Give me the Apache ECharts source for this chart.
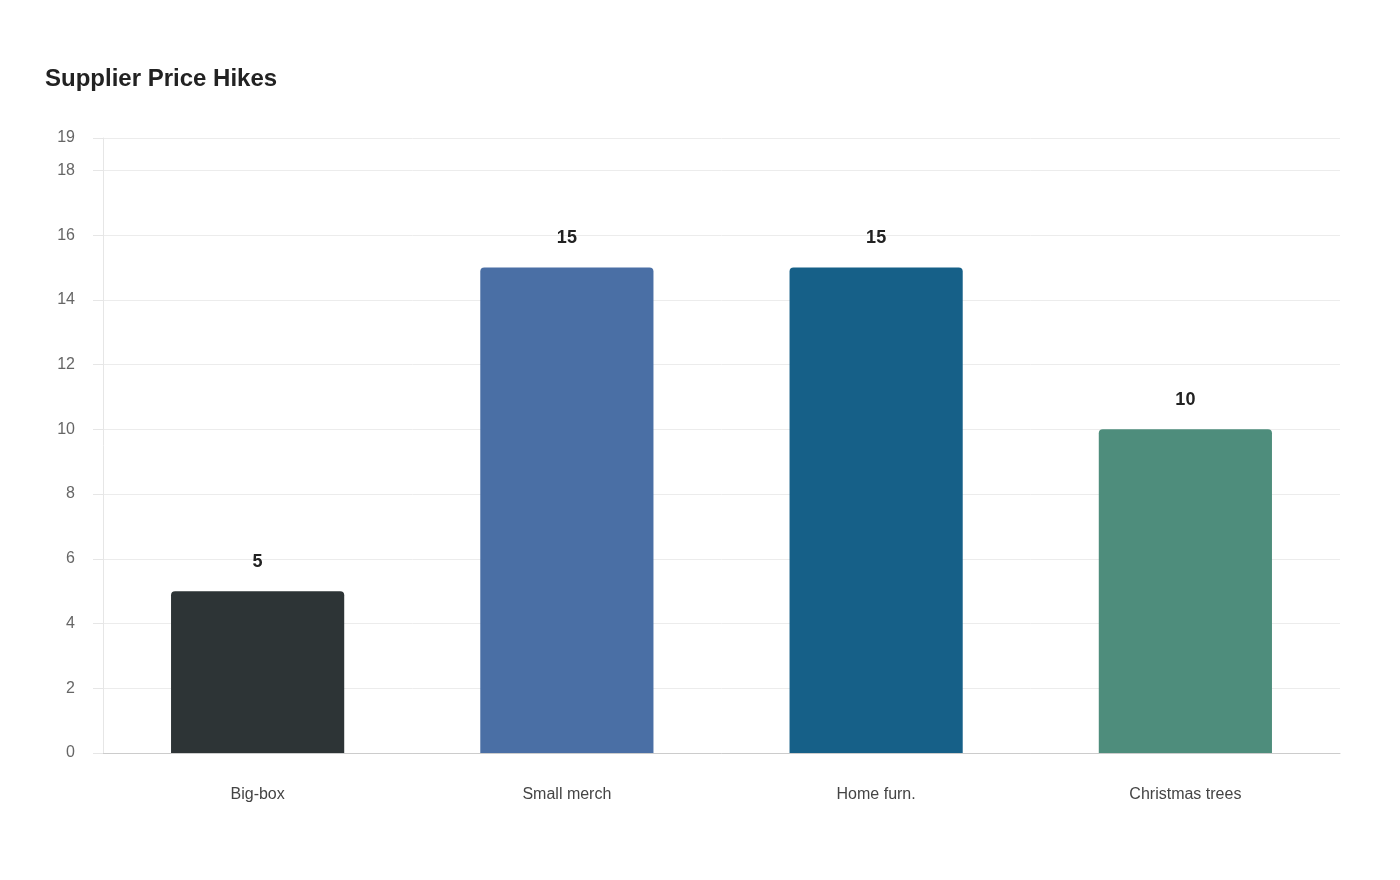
<!DOCTYPE html>
<html><head><meta charset="utf-8">
<script src="https://cdn.jsdelivr.net/npm/echarts@6/dist/echarts.min.js"></script>
<style>html,body{margin:0;padding:0;background:#fff}#c{width:1400px;height:880px}</style>
</head><body><div id="c"></div>
<script>
const categories = ["Big-box", "Small merch", "Home furn.", "Christmas trees"];
const values = [5, 15, 15, 10];
const colors = ["#2d3436", "#4a6fa5", "#166088", "#4e8d7c"];
const chart = echarts.init(document.getElementById('c'));
chart.setOption({
  backgroundColor: '#fff',
  title: { text: 'Supplier Price Hikes', left: 40, top: 62, textStyle: { fontFamily: 'Liberation Sans, Arial', fontSize: 24, fontWeight: 'bold', color: '#222' } },
  grid: { left: 103, right: 60, top: 138, bottom: 127 },
  xAxis: { type: 'category', data: categories,
    axisLine: { lineStyle: { color: '#ccc' } }, axisTick: { show: false },
    axisLabel: { color: '#444', fontSize: 16, margin: 34, fontFamily: 'Liberation Sans, Arial' } },
  yAxis: { type: 'value', min: 0, max: 19, interval: 2,
    axisLine: { show: true, lineStyle: { color: '#e6e6e6' } },
    axisTick: { show: true, length: 10, lineStyle: { color: '#e6e6e6' } },
    splitLine: { lineStyle: { color: '#ececec' } },
    axisLabel: { color: '#666', fontSize: 16, margin: 28, showMaxLabel: true, fontFamily: 'Liberation Sans, Arial' } },
  series: [{ type: 'bar', barWidth: '56%',
    data: values.map((v, i) => ({ value: v, itemStyle: { color: colors[i], borderRadius: [4,4,0,0] } })),
    label: { show: true, position: 'top', distance: 20, color: '#222', fontWeight: 'bold', fontSize: 18, fontFamily: 'Liberation Sans, Arial' } }]
});
</script></body></html>
